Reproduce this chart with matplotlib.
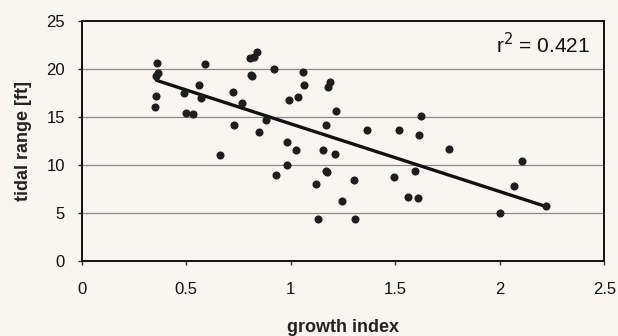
import numpy as np
import matplotlib
matplotlib.use("Agg")
import matplotlib.pyplot as plt

plt.rcParams['font.family'] = ['Liberation Sans', 'DejaVu Sans']

growth_index = [0.362, 0.366, 0.354, 0.356, 0.353, 0.492, 0.498, 0.532, 0.560, 0.569,
                0.590, 0.662, 0.722, 0.730, 0.769, 0.807, 0.826, 0.837, 0.809, 0.815,
                0.848, 0.884, 0.922, 0.928, 0.980, 0.982, 0.992, 1.026, 1.033, 1.060,
                1.065, 1.120, 1.131, 1.156, 1.171, 1.171, 1.175, 1.176, 1.186, 1.210,
                1.218, 1.246, 1.301, 1.308, 1.365, 1.493, 1.516, 1.563, 1.593, 1.610,
                1.614, 1.621, 1.759, 2.000, 2.070, 2.108, 2.219]
tidal_range = [20.6, 19.6, 19.2, 17.2, 16.0, 17.5, 15.4, 15.3, 18.3, 17.0,
               20.5, 11.0, 17.6, 14.1, 16.4, 21.1, 21.25, 21.7, 19.4, 19.2,
               13.4, 14.65, 20.0, 8.9, 12.4, 10.0, 16.8, 11.5, 17.05, 19.7,
               18.3, 7.95, 4.4, 11.5, 14.1, 9.4, 9.2, 18.1, 18.6, 11.15,
               15.6, 6.2, 8.4, 4.3, 13.6, 8.75, 13.6, 6.6, 9.4, 6.5,
               13.1, 15.1, 11.6, 5.0, 7.8, 10.35, 5.66]
# trend line
trend_x = [0.358, 2.219]
trend_y = [18.8, 5.66]
r2_label = "0.421"
x_ticks = [0, 0.5, 1, 1.5, 2, 2.5]
y_ticks = [0, 5, 10, 15, 20, 25]

bg = '#f9f6f1'
fig = plt.figure(figsize=(6.18, 3.36), dpi=100, facecolor=bg)
ax = fig.add_axes([0.132, 0.224, 0.846, 0.714], facecolor=bg)

for yv in y_ticks[1:-1]:
    ax.axhline(yv, color='#8a8a8a', lw=0.9, zorder=1)

ax.plot(trend_x, trend_y, color='#111111', lw=2.4, zorder=3, solid_capstyle='round')
ax.scatter(growth_index, tidal_range, s=34, color='#1e1e1e', zorder=4, linewidths=0)

ax.set_xlim(0, 2.5)
ax.set_ylim(0, 25)
ax.set_xticks(x_ticks)
ax.set_xticklabels(['0', '0.5', '1', '1.5', '2', '2.5'])
ax.set_yticks(y_ticks)
for s in ax.spines.values():
    s.set_color('#111111')
    s.set_linewidth(1.4)
ax.tick_params(axis='both', direction='out', length=3, width=1, color='#333333',
               labelsize=12, labelcolor='#111111')
ax.tick_params(axis='x', pad=12)
ax.tick_params(axis='y', pad=9)

ax.set_xlabel('growth index', fontsize=13, fontweight='bold', color='#222222', labelpad=16)
ax.set_ylabel('tidal range [ft]', fontsize=13, fontweight='bold', color='#222222', labelpad=10)

ax.text(2.43, 22.5, r'r$^2$ = ' + r2_label, ha='right', va='center', fontsize=15,
        color='#111111', zorder=5)

fig.savefig('out.png', dpi=100, facecolor=bg)
